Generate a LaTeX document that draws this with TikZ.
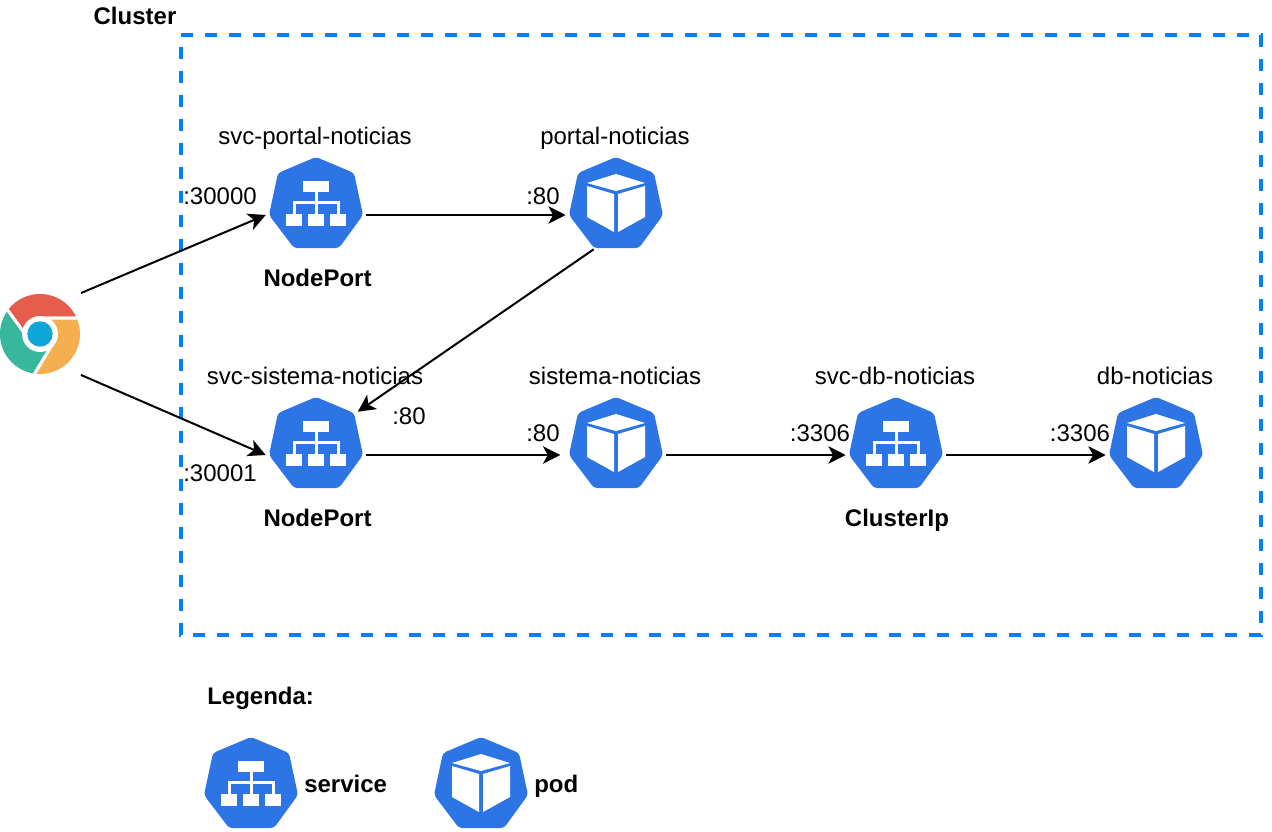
\documentclass[tikz,border=0pt]{standalone}
\usepackage{fontspec}
\setmainfont{Liberation Sans}
\usetikzlibrary{arrows.meta, positioning}
\definecolor{kubeBlue}{RGB}{45,116,229}
\definecolor{clusterBlue}{RGB}{0,127,255}
\definecolor{chromeRed}{RGB}{229,92,77}
\definecolor{chromeGreen}{RGB}{55,183,155}
\definecolor{chromeYellow}{RGB}{246,175,80}
\definecolor{chromeBlue}{RGB}{15,165,214}
\tikzset{
heptagon/.pic={
    \fill[kubeBlue, rounded corners=2.5pt] (0,-58) -- (38,-42) -- (47,0) -- (23,33)
        -- (-22,33) -- (-47,0) -- (-38,-42) -- cycle;
},
service/.pic={
    \pic {heptagon};
    \fill[white] (-13,-34) rectangle (13,-23);
    \fill[white] (-30,-1) rectangle (-14,11);
    \fill[white] (-8,-1) rectangle (8,11);
    \fill[white] (14,-1) rectangle (30,11);
    \fill[white] (-1.5,-23) rectangle (1.5,-1);
    \fill[white] (-23.5,-14.5) rectangle (23.5,-11.5);
    \fill[white] (-23.5,-14.5) rectangle (-20.5,-1);
    \fill[white] (20.5,-14.5) rectangle (23.5,-1);
},
pod/.pic={
    \pic {heptagon};
    \fill[white] (0,-41) -- (29,-32) -- (0,-24) -- (-29,-32) -- cycle;
    \fill[white] (-29,-29) -- (-2,-21) -- (-2,17) -- (-29,2) -- cycle;
    \fill[white] (29,-29) -- (2,-21) -- (2,17) -- (29,2) -- cycle;
}}
\begin{document}
\begin{tikzpicture}[x=0.75pt, y=-0.75pt,
label/.style={anchor=base, inner sep=0pt, font=\fontsize{18}{22}\selectfont},
title/.style={label, font=\fontsize{18}{22}\selectfont\bfseries},
servicebox/.style={rectangle, minimum width=75pt, minimum height=64.5pt, inner sep=0pt},
podbox/.style={rectangle, minimum width=75pt, minimum height=51pt, inner sep=0pt},
clusterline/.style={draw=clusterBlue, line width=3pt, dash pattern=on 9pt off 9pt},
arrow/.style={-{Stealth[length=13pt, width=13pt, inset=3.5pt]}, line width=1.5pt, black}]
\useasboundingbox (0,0) rectangle (1272,832);

\draw[clusterline] (181,35) -- (1261,35) -- (1261,635) -- (181,635) -- cycle;
\node[title] (clustertitle) at (135,24) {Cluster};

% browser
\node[rectangle, minimum size=61pt, inner sep=0pt] (chrome) at (40,334) {};
\begin{scope}[shift={(40,334)}]
    \clip (0,0) circle (30pt);
    \filldraw[chromeRed, draw=white, line width=2.25pt] (-16.7,-2.3) -- (-50,-48) -- (60,-48) -- (60,-16) -- (0,-16) -- cycle;
    \filldraw[chromeGreen, draw=white, line width=2.25pt] (-16.7,-2.3) -- (-50,-48) -- (-60,60) -- (-17,59) -- (15,6) -- cycle;
    \filldraw[chromeYellow, draw=white, line width=2.25pt] (15,6) -- (-17,59) -- (60,60) -- (60,-16) -- (0,-16) -- cycle;
    \fill[white] (0,0) circle (13.5pt);
    \fill[chromeBlue] (0,0) circle (9.5pt);
\end{scope}

% first row
\node[servicebox] (svcportal) at (316,215) {};
\pic at (316,215) {service};
\node[podbox] (podportal) at (616,215) {};
\pic at (616,215) {pod};

% second row
\node[servicebox] (svcsistema) at (316,455) {};
\pic at (316,455) {service};
\node[podbox] (podsistema) at (616,455) {};
\pic at (616,455) {pod};
\node[servicebox] (svcdb) at (896,455) {};
\pic at (896,455) {service};
\node[podbox] (poddb) at (1156,455) {};
\pic at (1156,455) {pod};

\node[label] (lblsvcportal) at (315,144) {svc-portal-noticias};
\node[label] (lblportal) at (615,144) {portal-noticias};
\node[label] (lblsvcsistema) at (315,384) {svc-sistema-noticias};
\node[label] (lblsistema) at (615,384) {sistema-noticias};
\node[label] (lblsvcdb) at (895,384) {svc-db-noticias};
\node[label] (lbldb) at (1155,384) {db-noticias};

\node[label] (port30000) at (220,204) {:30000};
\node[label] (port30001) at (220,481) {:30001};
\node[label] (portportal) at (543,204) {:80};
\node[label] (portsvcsistema) at (409,424) {:80};
\node[label] (portsistema) at (543,441) {:80};
\node[label] (portsvcdb) at (820,441) {:3306};
\node[label] (portdb) at (1080,441) {:3306};

\node[title] (typeportal) at (317.5,286) {NodePort};
\node[title] (typesistema) at (317.5,526) {NodePort};
\node[title] (typedb) at (897,526) {ClusterIp};

\draw[arrow] (chrome.north east) -- (svcportal.west);
\draw[arrow] (chrome.south east) -- (svcsistema.west);
\draw[arrow] (svcportal.east) -- (podportal.west);
\draw[arrow] (podportal.237) -- (svcsistema.46.4);
\draw[arrow, shorten >=4pt] (svcsistema.east) -- (podsistema.west);
\draw[arrow] (podsistema.east) -- (svcdb.west);
\draw[arrow] (svcdb.east) -- (poddb.west);

% legend
\node[title, anchor=base west] (legenda) at (207,704) {Legenda:};
\pic at (251,795) {service};
\node[title, anchor=base west] (lgservice) at (304,792) {service};
\pic at (481,795) {pod};
\node[title, anchor=base west] (lgpod) at (534,792) {pod};
\end{tikzpicture}
\end{document}
